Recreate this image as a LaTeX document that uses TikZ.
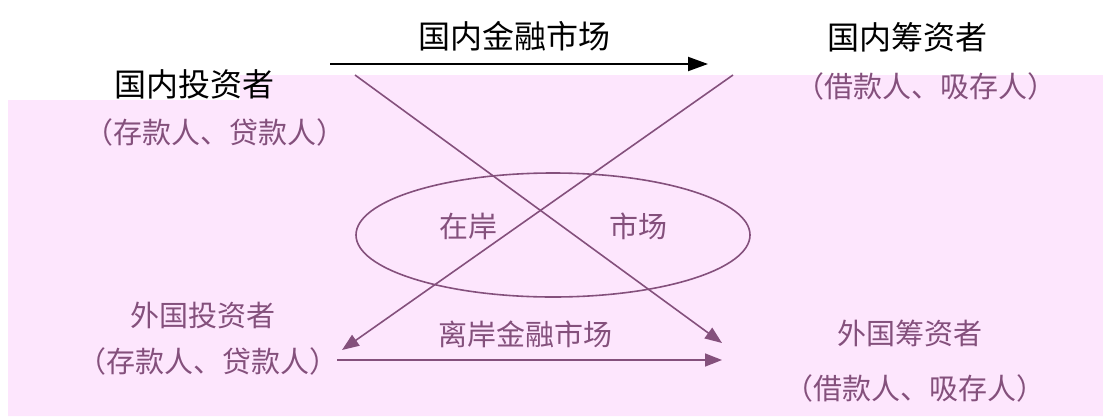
\documentclass[tikz,border=0pt]{standalone}
\usepackage{fontspec}
\newfontfamily\cjk{Noto Sans CJK SC}
\usetikzlibrary{arrows.meta,shapes.geometric}
\definecolor{bgpink}{HTML}{FDE6FD}
\definecolor{plum}{HTML}{84507C}
\tikzset{
  blk/.style={font=\cjk\fontsize{32}{36}\selectfont, text=black, inner sep=0pt},
  pur/.style={font=\cjk\fontsize{29}{33}\selectfont, text=plum, inner sep=0pt},
  parr/.style={draw=plum, line width=1.6pt, -{Triangle[length=17pt,width=13pt]}},
  barr/.style={draw=black, line width=2pt, -{Triangle[length=20pt,width=14pt]}},
}
\begin{document}
\begin{tikzpicture}[x=1pt,y=-1pt]
\useasboundingbox (0,0) rectangle (1103,418);
\fill[bgpink] (8,100) -- (240,100) -- (240,75) -- (1103,75) -- (1103,416) -- (8,416) -- cycle;
% texts
\node[blk] (dmkt) at (514,36) {国内金融市场};
\node[blk] (dinv) at (194,84) {国内投资者};
\node[pur] (dinvs) at (215,132) {（存款人、贷款人）};
\node[blk] (dfin) at (907,37) {国内筹资者};
\node[pur] (dfins) at (926,86) {（借款人、吸存人）};
\node[draw=plum, line width=1.6pt, ellipse, minimum width=394pt, minimum height=124pt, inner sep=0pt] (ell) at (553,235) {};
\node[pur] (on1) at (468,226) {在岸};
\node[pur] (on2) at (638,226) {市场};
\node[pur] (finv) at (203,315) {外国投资者};
\node[pur] (finvs) at (208,361) {（存款人、贷款人）};
\node[pur] (omkt) at (525,334) {离岸金融市场};
\node[pur] (ffin) at (910,333) {外国筹资者};
\node[pur] (ffins) at (915,388) {（借款人、吸存人）};
% connector ends
\coordinate (a1) at (330,64);
\coordinate (a2) at (708,64);
\coordinate (c1s) at (355,75);
\coordinate (c1e) at (722,343);
\coordinate (c2s) at (733,75);
\coordinate (c2e) at (342,350);
\coordinate (b1) at (337,360);
\coordinate (b2) at (722,360);
\draw[barr] (a1) -- (a2);
\draw[parr] (c1s) -- (c1e);
\draw[parr] (c2s) -- (c2e);
\draw[parr] (b1) -- (b2);
\end{tikzpicture}
\end{document}
